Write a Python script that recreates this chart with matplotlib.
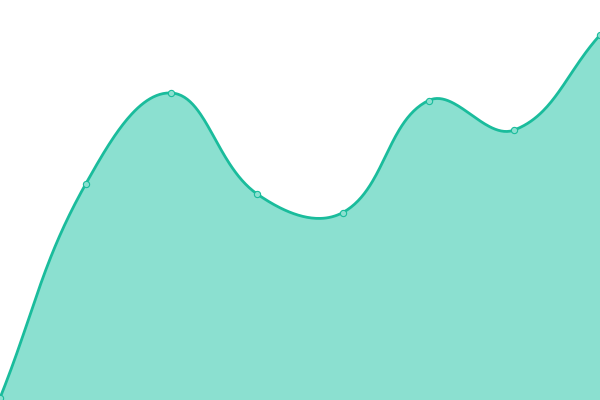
import numpy as np
import matplotlib
matplotlib.use("Agg")
import matplotlib.pyplot as plt

# valores (eje y de 0 a 400)
labels = ["1", "2", "3", "4", "5", "6", "7", "8"]
valores = [2, 216, 307, 206, 187.5, 299.5, 270, 365]

linea = "#1abc9c"
relleno = "#8be0d0"
tension = 0.4

fig = plt.figure(figsize=(6, 4), dpi=100)
ax = fig.add_axes([0, 0, 1, 1])
ax.set_xlim(0, len(valores) - 1)
ax.set_ylim(0, 400)
ax.axis("off")

# curva suave tipo spline (en pixeles para que la tension sea isotropica)
sx = 600 / (len(valores) - 1)
px = np.arange(len(valores)) * sx
py = np.array(valores, dtype=float)
pts = np.column_stack([px, py])

cps = []
for i in range(len(pts)):
    prev = pts[i - 1] if i > 0 else pts[i]
    nxt = pts[i + 1] if i < len(pts) - 1 else pts[i]
    cur = pts[i]
    d01 = np.hypot(*(cur - prev))
    d12 = np.hypot(*(nxt - cur))
    tot = d01 + d12
    s01 = d01 / tot if tot else 0
    s12 = d12 / tot if tot else 0
    cp_prev = cur - tension * s01 * (nxt - prev)
    cp_next = cur + tension * s12 * (nxt - prev)
    cps.append((cp_prev, cp_next))

t = np.linspace(0, 1, 60)[:, None]
curva = []
for i in range(len(pts) - 1):
    p0 = pts[i]
    p1 = cps[i][1]
    p2 = cps[i + 1][0]
    p3 = pts[i + 1]
    seg = (1 - t) ** 3 * p0 + 3 * (1 - t) ** 2 * t * p1 + 3 * (1 - t) * t ** 2 * p2 + t ** 3 * p3
    curva.append(seg if i == 0 else seg[1:])
curva = np.vstack(curva)
cx = curva[:, 0] / sx
cy = curva[:, 1]

ax.fill_between(cx, 0, cy, color=relleno, lw=0)
ax.plot(cx, cy, color=linea, lw=2, solid_capstyle="round")
ax.plot(np.arange(len(valores)), valores, "o", ms=4.5, mfc=relleno, mec=linea, mew=0.8, clip_on=False)

fig.savefig("out.png", dpi=100)
